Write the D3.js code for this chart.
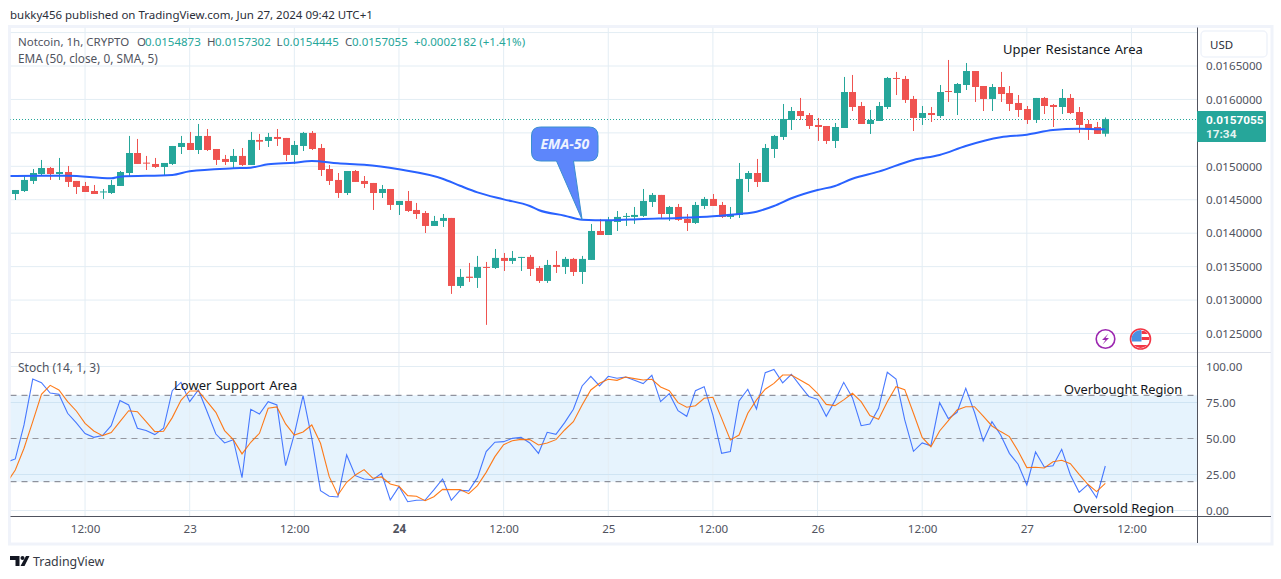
<!DOCTYPE html>
<html>
<head>
<meta charset="utf-8">
<script src="https://cdn.jsdelivr.net/npm/d3@7/dist/d3.min.js"></script>
<style>
html,body{margin:0;padding:0;background:#fff;overflow:hidden}
svg{display:block}
text{font-family:"Noto Sans","Open Sans",sans-serif}
</style>
</head>
<body>
<svg id="c" width="1281" height="579"></svg>
<script>
// Prices are listed in millionths of a USD, hour by hour from Jun 22 04:00
const PRICE_UNIT = 1e-6;
const opens = [14586,14631,14781,14885,14975,14885,14915,14781,14706,14631,14609,14601,14706,14900,15199,15055,15035,14990,15035,15289,15349,15244,15454,15259,15110,15065,15155,15020,15394,15379,15439,15424,15170,15304,15499,15274,14960,14796,14601,14930,14781,14751,14601,14661,14422,14482,14347,14302,14108,14183,14228,13211,13350,13331,13495,13480,13630,13585,13630,13645,13480,13286,13525,13495,13615,13420,13600,14033,13973,14168,14243,14243,14258,14467,14572,14287,14392,14213,14153,14407,14512,14422,14243,14272,14811,14900,14766,15259,15439,15693,15827,15767,15618,15603,15379,15573,16111,15902,15633,15678,15887,16321,16306,16007,15723,15797,15752,16126,16096,16216,16425,16201,16007,16186,16096,15947,15857,15693,16022,15917,15887,16022,15812,15633,15588,15487];
const highs = [14646,14870,14960,15095,14990,15125,15005,14781,14766,14721,14661,14796,14930,15454,15409,15155,15125,15050,15304,15454,15514,15633,15558,15259,15170,15259,15274,15514,15484,15499,15558,15424,15379,15514,15528,15334,15020,14900,14930,14945,14855,14751,14721,14661,14482,14631,14452,14332,14258,14287,14228,13465,13555,13660,13570,13764,13704,13734,13645,13675,13510,13600,13734,13645,13630,13660,14138,14213,14243,14332,14302,14392,14661,14601,14572,14407,14437,14287,14467,14542,14586,14467,14392,15050,14930,15110,15334,15469,15932,15887,16022,15797,15723,15603,15648,16336,16366,15962,15842,15962,16336,16411,16351,16052,15902,15887,16216,16590,16246,16545,16425,16201,16231,16411,16201,16066,15902,16022,16037,15932,16156,16081,15887,15693,15663,15730];
const lows = [14497,14616,14736,14855,14796,14796,14691,14586,14616,14586,14512,14586,14706,14855,15035,14945,14975,14870,15020,15184,15244,15184,15229,15020,15020,14975,15005,15020,15244,15289,15304,15080,15035,15229,15244,14855,14721,14527,14571,14766,14676,14347,14527,14347,14272,14317,14213,14003,14108,14093,13092,13181,13271,13181,12629,13465,13435,13540,13435,13360,13256,13256,13405,13390,13360,13241,13600,13973,13973,14033,14108,14138,14243,14392,14228,14183,14183,14033,14138,14362,14407,14228,14213,14228,14616,14691,14766,15125,15394,15543,15693,15558,15379,15334,15274,15573,15827,15633,15484,15678,15857,16066,15947,15528,15618,15663,15723,15962,15767,16141,15962,15827,15827,15962,15827,15738,15633,15648,15782,15588,15782,15782,15498,15394,15484,15444];
const closes = [14646,14796,14900,14975,14885,14915,14766,14691,14616,14586,14624,14721,14915,15199,15035,15040,14990,15050,15304,15349,15244,15454,15244,15095,15065,15155,15020,15394,15368,15439,15409,15170,15319,15499,15259,14945,14781,14601,14930,14766,14736,14601,14661,14422,14482,14332,14287,14108,14183,14228,13211,13346,13331,13495,13480,13630,13585,13630,13645,13465,13286,13525,13495,13615,13420,13615,14033,13973,14183,14243,14258,14273,14482,14572,14287,14392,14198,14153,14422,14512,14407,14243,14287,14811,14900,14766,15274,15454,15708,15827,15752,15603,15588,15379,15588,16111,15887,15633,15693,15902,16321,16306,15992,15723,15797,15767,16111,16111,16231,16425,16186,16007,16186,16081,15932,15842,15693,16022,15902,15887,16022,15797,15618,15558,15484,15706];
const lastPrice = 0.0157055;

// EMA-50 readings: candle number and price in millionths (the line starts left of the first candle)
const emaHours = [-1,0,6,11,12,18,20,25,27,29,32,34,37,40,44,49,51,53,56,59,60,63,65,68,72,76,80,83,85,87,89,92,94,96,99,103,106,109,113,116,119,122,125];
const emaValues = [14855,14855,14860,14821,14845,14870,14926,14970,14980,15030,15055,15080,15045,15024,14955,14815,14710,14611,14506,14407,14347,14262,14202,14193,14213,14228,14253,14287,14322,14407,14522,14646,14706,14815,14920,15095,15170,15304,15434,15473,15543,15563,15553];

// Stochastic, starting one hour before the first candle
const stochK = [33.5,35.8,59.4,91.3,88.8,81.6,80.7,67.5,60.8,53.4,50.8,52,58.9,76.3,73.3,57.1,55.5,52.7,57.1,83.2,89,75.6,83.7,68.6,53.1,46.9,49.2,22.8,70.3,67,75.6,73.3,31.1,53.1,79.8,50.1,13.8,9.9,9.4,38.6,24.2,21.9,21.4,25.8,7.3,16.6,6.1,7.1,7.3,14.3,21.9,7.1,14,13.6,22.8,40.9,47.4,47.8,50.1,50.8,46.9,39.7,54.3,52.9,61,70.3,86.5,93.2,86.5,93.2,91.8,92.7,90.4,88.1,93.9,75.6,81.1,69.3,65.4,83.2,86,66.3,39.7,40.9,76.1,84.2,70.5,95.7,98,88.6,94.6,86.7,79.1,77.2,65.4,76.3,89,78.4,58.9,60.1,71,96,91.3,62.9,41.1,46.9,45,74.9,63.8,68.2,84.9,68.2,48.3,61.7,52.4,39.7,32.1,17.7,40.6,30.2,31.1,42.5,24.7,12.6,18,8.9,30.9];
const stochD = [18.9,28.1,43.2,61.7,80.7,86.9,83.7,75.6,69.1,60.5,55.2,52,54.1,61.7,69.3,68.6,61.7,54.8,55,64.5,76.5,83,83,75.6,68.2,55.5,49.2,39.3,47.4,53.6,71,71.9,60.1,52.4,54.5,59.4,46.7,23.5,10.8,19.6,24.7,28.4,22.4,23.3,18.4,16.8,10.3,9.9,6.8,9.6,14.7,14.5,14.5,11.7,17.3,26.5,37.4,45.7,48.5,49.4,49.2,45.5,46.9,49.2,55.9,61.7,73.3,83.7,88.3,91.1,90.4,92.7,91.6,90.6,91.1,85.8,83.2,74.9,71.7,72.8,77.9,78.6,64,49,52.4,67.5,76.8,84.2,88.3,94.1,94.1,90.6,87.2,81.4,73.7,72.8,76.8,81.4,75.6,65.9,63.3,75.6,86,83.9,67.5,50.8,44.3,55.2,62.4,69.8,72.1,72.1,65.6,58.7,54.8,51.3,41.3,29.8,30,29.5,33.9,34.9,32.5,25.1,18.2,13.1,18.9];

// The 0.0155000 label sits behind the last-price tag in the reference, so it is not listed
const priceTicks = [0.0125,0.013,0.0135,0.014,0.0145,0.015,0.016,0.0165];
const priceGrid = [0.0125,0.013,0.0135,0.014,0.0145,0.015,0.0155,0.016,0.0165,0.017];
const stochTicks = [0,25,50,75,100];
const timeTickHours = [8,20,32,44,56,68,80,92,104,116,128];
const timeTickLabels = ["12:00","23","12:00","24","12:00","25","12:00","26","12:00","27","12:00"];

const GREEN="#26a69a", RED="#ef5350", GRID="#e3edf4", TXT="#50535e";
const L=10.5, R=1197.5, T=27.5, PB=352.5, B=516.5, OUT=1271;

const svg=d3.select("#c");
const x=d3.scaleLinear().domain([0,125]).range([15.3,1105.3]);
const y=d3.scaleLinear().domain([0.0125,0.0165]).range([333.5,66]);
const s=d3.scaleLinear().domain([0,100]).range([510.5,366.5]);
const mp=v=>v*PRICE_UNIT;

const defs=svg.append("defs");
defs.append("clipPath").attr("id","pa").append("rect").attr("x",L).attr("y",T).attr("width",R-L).attr("height",B-T);
defs.append("clipPath").attr("id","flag").append("circle").attr("cx",1140.5).attr("cy",339).attr("r",9);

// frame
svg.append("rect").attr("x",L-1).attr("y",T-1).attr("width",OUT-L+2).attr("height",543-T+2).attr("fill","#fff").attr("stroke","#f0f3fa").attr("stroke-width",3);

const plot=svg.append("g").attr("clip-path","url(#pa)");

// stoch band
plot.append("rect").attr("x",L).attr("width",R-L).attr("y",s(80)).attr("height",s(20)-s(80)).attr("fill","#e6f3fd");

// grid
plot.selectAll(".vg").data(timeTickHours).join("line").attr("x1",d=>x(d)).attr("x2",d=>x(d)).attr("y1",T).attr("y2",B).attr("stroke",GRID);
plot.selectAll(".hg").data(priceGrid).join("line").attr("x1",L).attr("x2",R).attr("y1",d=>y(d)).attr("y2",d=>y(d)).attr("stroke",GRID);
plot.selectAll(".sg").data(stochTicks).join("line").attr("x1",L).attr("x2",R).attr("y1",d=>s(d)).attr("y2",d=>s(d)).attr("stroke",d=>(d==25||d==75)?"#cfe4f3":GRID);

// band lines
plot.selectAll(".bl").data([80,50,20]).join("line").attr("x1",L).attr("x2",R).attr("y1",d=>s(d)).attr("y2",d=>s(d))
  .attr("stroke",d=>d==50?"#9598a1":"#787b86").attr("stroke-dasharray","6 5");

// last price line
plot.append("line").attr("x1",10).attr("x2",R).attr("y1",Math.floor(y(lastPrice))+.5).attr("y2",Math.floor(y(lastPrice))+.5).attr("stroke",GREEN).attr("stroke-dasharray","1 2");

// candles
const candles=d3.range(opens.length);
const col=i=>closes[i]>=opens[i]?GREEN:RED;
const bw=7;
plot.selectAll(".w").data(candles).join("line").attr("x1",i=>Math.round(x(i))+.5).attr("x2",i=>Math.round(x(i))+.5)
  .attr("y1",i=>y(mp(highs[i]))).attr("y2",i=>y(mp(lows[i]))).attr("stroke",col).attr("stroke-width",1);
plot.selectAll(".b").data(candles).join("rect").attr("x",i=>Math.round(x(i))-3).attr("width",bw)
  .attr("y",i=>Math.min(y(mp(opens[i])),y(mp(closes[i])))).attr("height",i=>Math.max(1,Math.abs(y(mp(opens[i]))-y(mp(closes[i]))))).attr("fill",col);

// EMA
const emaLine=d3.line().x(d=>x(d[0])).y(d=>y(mp(d[1]))).curve(d3.curveMonotoneX);
plot.append("path").attr("d",emaLine(d3.zip(emaHours,emaValues))).attr("fill","none").attr("stroke","#2962ff").attr("stroke-width",2);

// Stochastic
const kLine=d3.line().x((d,i)=>x(i-1)).y(d=>s(d));
plot.append("path").attr("d",kLine(stochK)).attr("fill","none").attr("stroke","#2962ff").attr("stroke-opacity",.85).attr("stroke-width",1.1);
plot.append("path").attr("d",kLine(stochD)).attr("fill","none").attr("stroke","#ff6d00").attr("stroke-opacity",.9).attr("stroke-width",1.1);

// dividers
svg.append("line").attr("x1",L).attr("x2",OUT).attr("y1",PB).attr("y2",PB).attr("stroke","#e0e3eb");
svg.append("line").attr("x1",L).attr("x2",OUT).attr("y1",B).attr("y2",B).attr("stroke",TXT);
svg.append("line").attr("x1",R).attr("x2",R).attr("y1",T).attr("y2",543).attr("stroke",TXT);

// axes
const styleAxis=g=>{g.select(".domain").remove();g.selectAll("line").remove();g.selectAll("text").attr("fill",TXT).style("font-size","11.6px");};
svg.append("g").attr("transform",`translate(${1206},0)`).call(d3.axisRight(y).tickValues(priceTicks).tickFormat(d3.format(".7f")).tickSize(0).tickPadding(0)).call(styleAxis);
svg.append("g").attr("transform",`translate(${1206},0)`).call(d3.axisRight(s).tickValues(stochTicks).tickFormat(d3.format(".2f")).tickSize(0).tickPadding(0)).call(styleAxis);
const tg=svg.append("g").attr("transform",`translate(0,523)`).call(d3.axisBottom(x).tickValues(timeTickHours).tickFormat((d,i)=>timeTickLabels[i]).tickSize(0).tickPadding(2)).call(styleAxis);
tg.selectAll("text").style("font-weight",(d,i)=>timeTickLabels[i]=="24"?"bold":null);

// texts
const txt=(t,px,py,o={})=>svg.append("text").attr("x",px).attr("y",py).attr("fill",o.fill||TXT).attr("font-size",o.size||11.5)
  .attr("font-weight",o.weight||null).attr("font-style",o.style||null).attr("text-anchor",o.anchor||"start")
  .attr("word-spacing",o.ws||null).style("font-family",o.family||null).text(t);
txt("bukky456 published on TradingView.com, Jun 27, 2024 09:42 UTC+1",10,19,{fill:"#2a2e39"});
txt("Notcoin, 1h, CRYPTO",18,46);
[["O",137,TXT],["0.0154873",145,GREEN],["H",207,TXT],["0.0157302",215,GREEN],["L",276.5,TXT],["0.0154445",283,GREEN],["C",345,TXT],["0.0157055",352,GREEN],["+0.0002182 (+1.41%)",414,GREEN]]
  .forEach(d=>txt(d[0],d[1],46,{fill:d[2]}));
txt("EMA (50, close, 0, SMA, 5)",18,63,{size:11.8});
txt("Stoch (14, 1, 3)",18,372,{size:12});
const ann={fill:"#131722",size:13};
txt("Upper Resistance Area",1003,54,{...ann,ws:1});
txt("Lower Support Area",174,390,{...ann,ws:1});
txt("Overbought Region",1064,394,{...ann,size:12.8});
txt("Oversold Region",1073,513,ann);

// EMA-50 callout, its tip on the EMA
const tipX=x(65), tipY=y(mp(emaValues[emaHours.indexOf(65)]));
const c={l:531.5,r:598,t:127,b:161,r0:9};
svg.append("path").attr("d",`M${c.l+c.r0},${c.t}H${c.r-c.r0}Q${c.r},${c.t} ${c.r},${c.t+c.r0}V${c.b-c.r0}Q${c.r},${c.b} ${c.r-c.r0},${c.b}H573.5L${tipX},${tipY}L556.5,${c.b}H${c.l+c.r0}Q${c.l},${c.b} ${c.l},${c.b-c.r0}V${c.t+c.r0}Q${c.l},${c.t} ${c.l+c.r0},${c.t}Z`)
  .attr("fill","#5d86fb").attr("stroke","#3b8fd0").attr("stroke-width",1);
txt("EMA-50",564.8,149,{fill:"#eef3ff",size:14,weight:"bold",style:"italic",anchor:"middle"});

// USD button
svg.append("rect").attr("x",1201).attr("y",31).attr("width",66).attr("height",26).attr("rx",4).attr("fill","#fff").attr("stroke","#f0f3fa").attr("stroke-width",1.5);
txt("USD",1210,48.5,{fill:"#2a2e39"});

// price label
svg.append("rect").attr("x",1197).attr("y",111).attr("width",69).attr("height",31).attr("rx",1).attr("fill",GREEN);
txt("0.0157055",1206,123.5,{fill:"#fff",weight:"bold",family:"Roboto",size:11.8});
txt("17:34",1206,138,{fill:"#e4f4f2",weight:"bold",family:"Roboto",size:11.8});

// badges
svg.append("circle").attr("cx",1105.5).attr("cy",339).attr("r",9.3).attr("fill","#fff").attr("stroke","#9c27b0").attr("stroke-width",1.6);
svg.append("path").attr("d","M1108.5,333.5L1102,340H1105.5L1102.5,344.5L1109,338H1105.5Z").attr("fill","#9c27b0");
svg.append("circle").attr("cx",1140.5).attr("cy",339).attr("r",10).attr("fill","#fff").attr("stroke","#f23645").attr("stroke-width",1.6);
const flag=svg.append("g").attr("clip-path","url(#flag)");
[[1141.5,331,9,3],[1141.5,337,9,3],[1131,345,19,4]].forEach(r=>flag.append("rect").attr("x",r[0]).attr("y",r[1]).attr("width",r[2]).attr("height",r[3]).attr("fill","#f23645"));
flag.append("rect").attr("x",1131).attr("y",330).attr("width",10.5).attr("height",11.5).attr("fill","#4a90e2");

// logo
svg.append("path").attr("d","M10,556H19.5V566H15.5V560H10Z M20.5,566L26,556H29.5L24.5,566Z").attr("fill","#131722");
svg.append("circle").attr("cx",22.5).attr("cy",558).attr("r",2).attr("fill","#131722");
txt("TradingView",33,566,{fill:"#363a45",size:12.4});
</script>
</body>
</html>
